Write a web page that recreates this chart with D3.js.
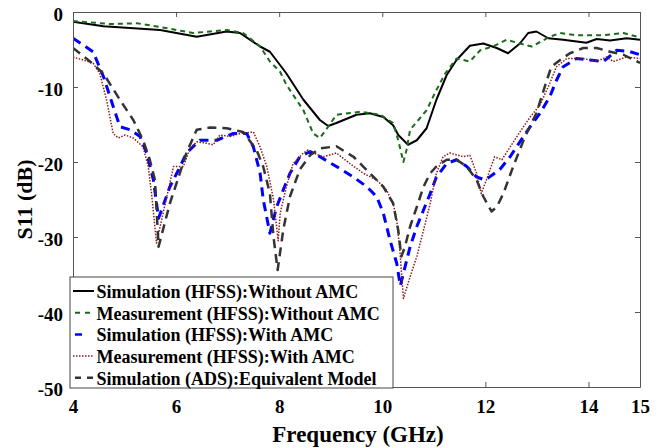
<!DOCTYPE html>
<html>
<head>
<meta charset="utf-8">
<script src="https://cdn.jsdelivr.net/npm/d3@7"></script>
<style>
  html, body { margin: 0; padding: 0; background: #fff; }
</style>
</head>
<body>
<svg id="chart" width="669" height="448"></svg>
<script>
// Frequency (GHz) / S11 (dB) samples for each trace
const simNoAmcF = [4, 4.59, 5.69, 6.4, 6.98, 7.24, 7.63, 7.82, 8.02, 8.14, 8.47, 8.79, 8.95, 9.11, 9.5, 9.76, 10.02, 10.21, 10.31, 10.5, 10.67, 10.86, 11.05, 11.25, 11.44, 11.7, 11.96, 12.22, 12.44, 12.67, 12.83, 12.99, 13.22, 13.51, 13.96, 14.16, 14.42, 14.74, 15];
const simNoAmcS = [-1.3, -1.9, -2.4, -3.3, -2.6, -2.8, -4.6, -5.3, -7.1, -8.2, -11.7, -14.4, -15.2, -14.8, -13.7, -13.5, -14.0, -15.1, -16.4, -17.7, -17.1, -15.5, -11.7, -8.4, -6.4, -4.5, -4.2, -4.8, -5.5, -4.2, -2.8, -2.6, -3.5, -3.7, -4.1, -3.6, -3.8, -3.5, -3.7];

const measNoAmcF = [4, 4.72, 5.24, 5.69, 6.33, 6.66, 6.98, 7.3, 7.63, 7.82, 8.02, 8.14, 8.47, 8.66, 8.79, 8.95, 9.11, 9.57, 9.96, 10.21, 10.31, 10.41, 10.47, 10.54, 10.7, 10.86, 11.05, 11.22, 11.44, 11.7, 11.9, 12.15, 12.41, 12.67, 12.9, 13.06, 13.25, 13.45, 13.77, 14.29, 14.68, 15];
const measNoAmcS = [-1.2, -1.6, -1.5, -2.0, -2.8, -2.6, -2.4, -2.8, -4.6, -6.6, -8.0, -9.7, -13.1, -16.2, -16.8, -15.3, -13.7, -13.3, -13.7, -14.8, -17.1, -20.0, -18.4, -15.7, -14.4, -13.1, -10.4, -8.2, -6.2, -6.6, -5.1, -4.6, -3.7, -4.2, -4.6, -4.0, -3.3, -2.8, -3.1, -3.1, -2.8, -3.4];

const simAmcF = [4, 4.39, 4.59, 4.78, 4.91, 5.11, 5.3, 5.43, 5.56, 5.66, 5.88, 6.08, 6.2, 6.46, 6.79, 7.11, 7.37, 7.5, 7.63, 7.69, 7.82, 7.95, 8.08, 8.21, 8.4, 8.6, 8.79, 9.11, 9.44, 9.7, 9.89, 10.02, 10.15, 10.28, 10.35, 10.54, 10.67, 10.8, 10.93, 11.05, 11.25, 11.44, 11.64, 11.83, 12.0, 12.28, 12.48, 12.74, 12.87, 13.06, 13.25, 13.38, 13.51, 13.77, 14.03, 14.29, 14.55, 14.81, 15];
const simAmcS = [-3.5, -5.3, -8.6, -12.6, -15.3, -15.7, -16.6, -18.8, -22.4, -27.5, -23.3, -20.6, -18.8, -17.1, -17.1, -16.2, -16.2, -18.0, -21.5, -25.0, -29.5, -26.0, -23.7, -21.5, -19.3, -18.6, -19.3, -20.6, -22.0, -23.3, -24.6, -26.8, -30.4, -33.5, -36.5, -31.3, -28.6, -26.4, -24.2, -22.0, -20.2, -19.7, -20.6, -22.0, -22.4, -21.0, -19.3, -16.6, -15.3, -13.5, -11.3, -9.1, -7.3, -6.2, -6.4, -6.6, -5.1, -5.3, -5.7];

const measAmcF = [4, 4.39, 4.52, 4.65, 4.78, 4.88, 5.01, 5.17, 5.36, 5.46, 5.53, 5.62, 5.95, 6.14, 6.27, 6.4, 6.59, 6.72, 6.85, 7.05, 7.24, 7.5, 7.63, 7.76, 7.89, 7.98, 8.02, 8.14, 8.27, 8.47, 8.56, 8.66, 8.86, 9.11, 9.37, 9.63, 9.89, 10.08, 10.21, 10.28, 10.34, 10.41, 10.54, 10.67, 10.8, 10.93, 11.05, 11.18, 11.31, 11.57, 11.7, 11.83, 11.92, 12.02, 12.18, 12.32, 12.67, 12.87, 13.06, 13.25, 13.38, 13.58, 13.9, 14.16, 14.35, 14.48, 14.74, 15];
const measAmcS = [-6.0, -6.8, -8.2, -11.7, -16.2, -16.8, -16.4, -16.8, -18.0, -20.6, -24.6, -30.8, -20.6, -20.6, -18.2, -17.3, -17.5, -17.7, -16.4, -16.6, -16.2, -16.0, -18.0, -20.6, -25.0, -30.5, -26.8, -23.3, -20.2, -18.8, -18.4, -18.8, -19.3, -18.8, -20.2, -21.5, -22.4, -23.7, -25.5, -27.7, -31.7, -38.2, -35.3, -32.6, -29.1, -25.5, -21.5, -19.3, -18.8, -19.3, -19.1, -21.5, -24.2, -22.4, -19.3, -19.7, -16.0, -14.0, -12.4, -9.5, -7.3, -6.2, -6.2, -6.6, -6.0, -6.6, -6.0, -6.2];

const adsF = [4, 4.33, 4.59, 4.91, 5.17, 5.36, 5.49, 5.59, 5.66, 5.88, 6.01, 6.2, 6.4, 6.66, 6.98, 7.3, 7.56, 7.69, 7.82, 7.89, 7.97, 8.08, 8.21, 8.4, 8.6, 8.79, 9.11, 9.44, 9.76, 10.02, 10.21, 10.31, 10.37, 10.44, 10.54, 10.67, 10.8, 10.93, 11.05, 11.25, 11.44, 11.64, 11.83, 11.96, 12.12, 12.22, 12.35, 12.54, 12.77, 12.99, 13.15, 13.28, 13.45, 13.64, 13.9, 14.16, 14.42, 14.68, 15];
const adsS = [-4.8, -6.6, -8.2, -11.7, -14.4, -17.1, -19.7, -22.4, -31.3, -25.5, -22.8, -18.8, -15.7, -15.4, -15.5, -16.0, -18.4, -20.6, -24.2, -30.0, -34.4, -29.0, -24.6, -21.0, -19.1, -18.2, -17.9, -19.3, -21.5, -23.3, -25.5, -29.1, -32.6, -31.3, -28.6, -26.0, -23.3, -21.5, -20.6, -19.7, -19.7, -20.6, -22.4, -24.6, -26.6, -26.0, -24.2, -20.6, -16.6, -13.5, -10.0, -7.3, -6.4, -5.5, -4.8, -4.8, -5.3, -5.7, -6.8];

const xTicks = [4, 6, 8, 10, 12, 14, 15];
const yTicks = [0, -10, -20, -30, -40, -50];

const seriesNames = [
  "Simulation (HFSS):Without AMC",
  "Measurement (HFSS):Without AMC",
  "Simulation (HFSS):With AMC",
  "Measurement (HFSS):With AMC",
  "Simulation (ADS):Equivalent Model"
];

const zip = (f, s) => f.map((v, i) => [v, s[i]]);
const series = [
  { name: seriesNames[0], pts: zip(simNoAmcF, simNoAmcS), color: "#000000", width: 2, dash: null, legendDash: null },
  { name: seriesNames[1], pts: zip(measNoAmcF, measNoAmcS), color: "#1b6b1b", width: 2, dash: "5,4", legendDash: "0,2,5,5,5,20" },
  { name: seriesNames[2], pts: zip(simAmcF, simAmcS), color: "#0000ff", width: 3, dash: "9,6", legendDash: "0,2,7,20" },
  { name: seriesNames[3], pts: zip(measAmcF, measAmcS), color: "#8b1a1a", width: 1.5, dash: "1.5,1.5", legendDash: "1.5,1.5" },
  { name: seriesNames[4], pts: zip(adsF, adsS), color: "#333333", width: 2.5, dash: "9,6", legendDash: "0,2,6,6,6,20" }
];

const FONT = '"Liberation Serif"';

const svg = d3.select("#chart");
const margin = { left: 73, right: 29, top: 12, bottom: 61 };
const W = 669, H = 448;
const x = d3.scaleLinear().domain([4, 15]).range([margin.left, W - margin.right]);
const y = d3.scaleLinear().domain([-50, 0]).range([H - margin.bottom, margin.top]);

const axisColor = "#555";
const tickFont = 19;

// Traces, clipped to the plot box
svg.append("defs").append("clipPath").attr("id", "plotClip")
  .append("rect").attr("x", x(4)).attr("y", y(0)).attr("width", x(15) - x(4)).attr("height", y(-50) - y(0));

const line = d3.line().x(d => x(d[0])).y(d => y(d[1]));
const plot = svg.append("g").attr("clip-path", "url(#plotClip)");
series.forEach(s => {
  plot.append("path")
    .datum(s.pts)
    .attr("d", line)
    .attr("fill", "none")
    .attr("stroke", s.color)
    .attr("stroke-width", s.width)
    .attr("stroke-dasharray", s.dash)
    .attr("stroke-linejoin", "round");
});

// Axes: ticks point inward on all four sides
const styleAxis = g => {
  g.select(".domain").attr("stroke", axisColor).attr("stroke-width", 1);
  g.selectAll(".tick line").attr("stroke", axisColor);
  g.selectAll(".tick text")
    .attr("fill", "#000")
    .style("font-family", FONT).style("font-weight", "bold").style("font-size", tickFont + "px");
};

svg.append("g").attr("transform", `translate(0,${y(-50)})`)
  .call(d3.axisBottom(x).tickValues(xTicks).tickSizeInner(-5).tickSizeOuter(0).tickPadding(12.5).tickFormat(d3.format("d")))
  .call(styleAxis);
svg.append("g").attr("transform", `translate(0,${y(0)})`)
  .call(d3.axisTop(x).tickValues(xTicks).tickSizeInner(-5).tickSizeOuter(0).tickFormat(""))
  .call(styleAxis);
svg.append("g").attr("transform", `translate(${x(4)},0)`)
  .call(d3.axisLeft(y).tickValues(yTicks).tickSizeInner(-5).tickSizeOuter(0).tickPadding(10).tickFormat(d => d === 0 ? "0" : "-" + Math.abs(d)))
  .call(styleAxis)
  .call(g => g.selectAll(".tick text").attr("dy", "0.45em"));
svg.append("g").attr("transform", `translate(${x(15)},0)`)
  .call(d3.axisRight(y).tickValues(yTicks).tickSizeInner(-5).tickSizeOuter(0).tickFormat(""))
  .call(styleAxis);

// Axis titles
svg.append("text")
  .attr("x", 358).attr("y", 442)
  .attr("text-anchor", "middle")
  .style("font-family", FONT).style("font-weight", "bold").style("font-size", "23px")
  .text("Frequency (GHz)");
svg.append("text")
  .attr("transform", `translate(32,${(y(0) + y(-50)) / 2}) rotate(-90)`)
  .attr("text-anchor", "middle")
  .style("font-family", FONT).style("font-weight", "bold").style("font-size", "22px")
  .text("S11 (dB)");

// Legend
const lg = svg.append("g").attr("transform", "translate(70,277)");
lg.append("rect").attr("width", 323).attr("height", 111)
  .attr("fill", "#fff").attr("stroke", "#444").attr("stroke-width", 1);
series.forEach((s, i) => {
  const cy = 14 + i * 21.7;
  lg.append("line")
    .attr("x1", 3).attr("x2", 24).attr("y1", cy).attr("y2", cy)
    .attr("stroke", s.color).attr("stroke-width", Math.min(s.width, 2.5))
    .attr("stroke-dasharray", s.legendDash);
  lg.append("text")
    .attr("x", 26.5).attr("y", cy + 7)
    .style("font-family", FONT).style("font-weight", "bold").style("font-size", "18px")
    .text(s.name);
});
</script>
</body>
</html>
